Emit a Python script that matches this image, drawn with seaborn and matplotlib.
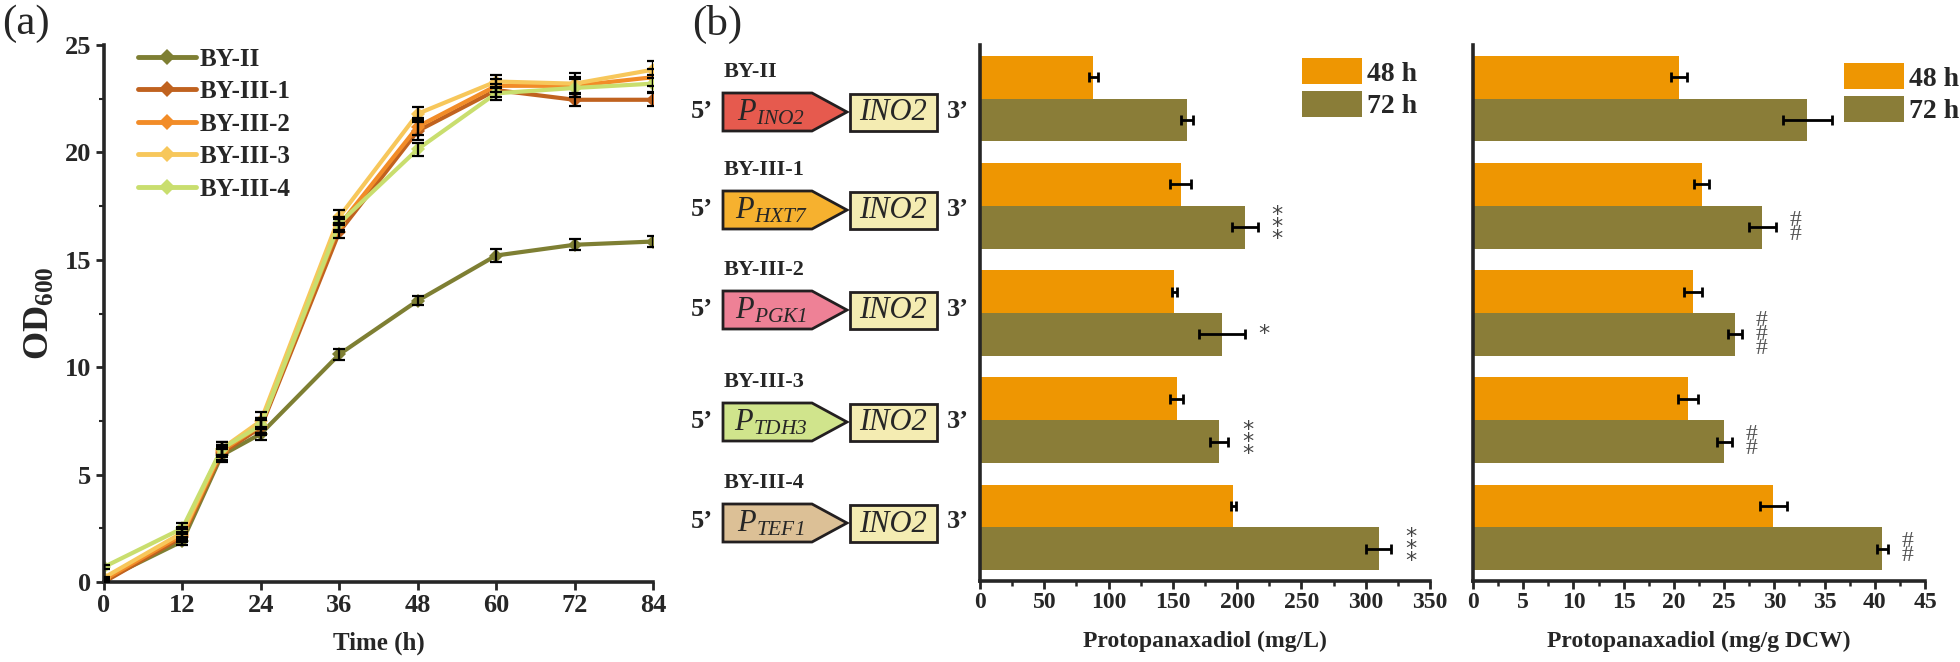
import numpy as np
import pandas as pd
import matplotlib
matplotlib.use("Agg")
import matplotlib.pyplot as plt
import seaborn as sns
from matplotlib.patches import Polygon, Rectangle
from matplotlib.lines import Line2D
from matplotlib.ticker import MultipleLocator

sns.set_theme(style="ticks")
plt.rcParams["font.family"] = ["Liberation Serif", "DejaVu Serif"]
plt.rcParams["font.weight"] = "bold"
plt.rcParams["axes.labelweight"] = "bold"
plt.rcParams["mathtext.fontset"] = "custom"
plt.rcParams["mathtext.rm"] = "Liberation Serif:weight=bold"
plt.rcParams["mathtext.bf"] = "Liberation Serif:weight=bold"
plt.rcParams["mathtext.it"] = "Liberation Serif:style=italic:weight=normal"
plt.rcParams["mathtext.default"] = "regular"

# ---------------- data ----------------
time_h = [0, 12, 18, 24, 36, 48, 60, 72, 84]
strains = ["BY-II", "BY-III-1", "BY-III-2", "BY-III-3", "BY-III-4"]

od_by2 = [0.1, 1.9, 5.9, 6.9, 10.6, 13.1, 15.2, 15.7, 15.85]
od_by3_1 = [0.0, 2.1, 6.0, 7.2, 16.3, 21.0, 22.9, 22.45, 22.45]
od_by3_2 = [0.1, 2.2, 6.1, 7.3, 16.6, 21.2, 23.1, 23.1, 23.5]
od_by3_3 = [0.2, 2.3, 6.2, 7.5, 17.0, 21.8, 23.3, 23.2, 23.85]
od_by3_4 = [0.7, 2.5, 6.2, 7.3, 16.7, 20.15, 22.75, 23.0, 23.2]

sd_by2 = [0.05, 0.2, 0.3, 0.3, 0.25, 0.2, 0.3, 0.25, 0.25]
sd_by3_1 = [0.05, 0.25, 0.3, 0.35, 0.3, 0.4, 0.3, 0.3, 0.3]
sd_by3_2 = [0.05, 0.25, 0.3, 0.35, 0.3, 0.4, 0.3, 0.4, 0.4]
sd_by3_3 = [0.05, 0.25, 0.3, 0.4, 0.3, 0.3, 0.3, 0.5, 0.4]
sd_by3_4 = [0.1, 0.25, 0.3, 0.35, 0.3, 0.3, 0.3, 0.4, 0.4]

titer_48 = [88, 156, 151, 153, 197]
titer_48_sd = [3.5, 8, 2, 5, 2]
titer_72 = [161, 206, 188, 186, 310]
titer_72_sd = [4.5, 10, 18, 7, 10]
titer_marks = ["", "***", "*", "***", "***"]

yield_48 = [20.5, 22.75, 21.9, 21.45, 29.9]
yield_48_sd = [0.8, 0.7, 0.85, 1.0, 1.35]
yield_72 = [33.3, 28.8, 26.05, 25.0, 40.75]
yield_72_sd = [2.45, 1.35, 0.7, 0.75, 0.55]
yield_marks = ["", "##", "###", "##", "##"]

promoters = ["INO2", "HXT7", "PGK1", "TDH3", "TEF1"]
time_levels = ["48 h", "72 h"]

# ---------------- styles ----------------
line_colors = ["#7E7F33", "#C0621F", "#F28C28", "#F7C75B", "#C9DE6E"]
bar_colors = ["#EE9602", "#8A7D38"]
prom_colors = ["#E65A4E", "#F6B12F", "#EE8196", "#D0E48C", "#DCC096"]
gene_color = "#F4ECB2"
edge_dark = "#231F20"

W, H = 1960, 662
fig = plt.figure(figsize=(W / 100, H / 100), dpi=100)

def fx(px):
    return px / W

def fy(py):
    return 1 - py / H

# ---------------- panel (a) ----------------
ax_a = fig.add_axes([fx(104), fy(582), fx(653) - fx(104), fy(45) - fy(582)])
od_all = [od_by2, od_by3_1, od_by3_2, od_by3_3, od_by3_4]
sd_all = [sd_by2, sd_by3_1, sd_by3_2, sd_by3_3, sd_by3_4]
rows = []
for s, vals in zip(strains, od_all):
    for t, v in zip(time_h, vals):
        rows.append({"Strain": s, "Time": t, "OD": v})
df_a = pd.DataFrame(rows)
sns.lineplot(data=df_a, x="Time", y="OD", hue="Strain", hue_order=strains,
             palette=line_colors, marker="D", markersize=7, markeredgewidth=0,
             linewidth=3, errorbar=None, legend=False, ax=ax_a)
for vals, sds in zip(od_all, sd_all):
    ax_a.errorbar(time_h, vals, yerr=sds, fmt="none", ecolor="black",
                  elinewidth=1.6, capsize=4.5, capthick=1.6, zorder=5)
ax_a.set_xlim(0, 84)
ax_a.set_ylim(0, 25)
ax_a.set_xticks([0, 12, 24, 36, 48, 60, 72, 84])
ax_a.set_yticks([0, 5, 10, 15, 20, 25])
ax_a.yaxis.set_minor_locator(MultipleLocator(2.5))
ax_a.tick_params(axis="both", which="major", labelsize=19, width=2, length=6,
                 direction="out", pad=3)
ax_a.tick_params(axis="y", which="minor", width=1.5, length=3.5)
ax_a.set_xlabel("Time (h)", fontsize=18, labelpad=10)
ax_a.set_ylabel("OD$_{600}$", fontsize=26, labelpad=6)
sns.despine(ax=ax_a)
for sp in ["left", "bottom"]:
    ax_a.spines[sp].set_linewidth(2.6)
handles = [Line2D([0], [0], color=c, lw=3.5, marker="D", markersize=8,
                  markeredgewidth=0) for c in line_colors]
ax_a.legend(handles, strains, loc="upper left", bbox_to_anchor=(0.062, 0.995),
            frameon=False, fontsize=18, handlelength=2.3, handletextpad=0.15,
            labelspacing=0.38, borderpad=0, borderaxespad=0)

# ---------------- panel (b) bars ----------------
df_b = pd.DataFrame({
    "Strain": strains * 2,
    "Time": [time_levels[0]] * 5 + [time_levels[1]] * 5,
    "Titer": titer_48 + titer_72,
    "Yield": yield_48 + yield_72,
})

def bar_panel(ax, col, sds, marks, xmax, major, minor, xlabel, leg_anchor, mark_font):
    sns.barplot(data=df_b, y="Strain", x=col, hue="Time", order=strains,
                hue_order=time_levels, orient="h", palette=bar_colors,
                saturation=1, width=0.8, errorbar=None, linewidth=0, ax=ax)
    for cont, sd in zip(ax.containers, sds):
        ys = [p.get_y() + p.get_height() / 2 for p in cont]
        xs = [p.get_width() for p in cont]
        ax.errorbar(xs, ys, xerr=sd, fmt="none", ecolor="black",
                    elinewidth=2.0, capsize=3.5, capthick=2.0, zorder=5)
    cont72 = ax.containers[1]
    for p, sd, m in zip(cont72, sds[1], marks):
        if not m:
            continue
        y = p.get_y() + p.get_height() / 2
        ax.annotate("\n".join(m), xy=(p.get_width() + sd, y), xytext=(10, 0),
                    textcoords="offset points", ha="left", va="center",
                    **mark_font)
    ax.set_xlim(0, xmax)
    ax.set_ylim(4.5, -0.5)
    ax.xaxis.set_major_locator(MultipleLocator(major))
    ax.xaxis.set_minor_locator(MultipleLocator(minor))
    ax.set_yticks([])
    ax.set_ylabel("")
    ax.set_xlabel(xlabel, fontsize=17, labelpad=13)
    ax.tick_params(axis="x", which="major", labelsize=17, width=2, length=6, pad=2)
    ax.tick_params(axis="x", which="minor", width=1.8, length=3.5)
    sns.despine(ax=ax)
    for sp in ["left", "bottom"]:
        ax.spines[sp].set_linewidth(2.6)
    ax.legend(loc="upper left", bbox_to_anchor=leg_anchor, frameon=False,
              fontsize=20, handlelength=2.15, handleheight=1.05,
              handletextpad=0.2, labelspacing=0.15, borderpad=0,
              borderaxespad=0)

ax_b1 = fig.add_axes([fx(980), fy(581), fx(1430) - fx(980), fy(45) - fy(581)])
bar_panel(ax_b1, "Titer", [titer_48_sd, titer_72_sd], titer_marks, 350, 50, 25,
          "Protopanaxadiol (mg/L)", (0.716, 0.975),
          dict(fontsize=16, color="#444444", linespacing=0.5,
               family=["DejaVu Sans"], fontweight="normal"))

ax_b2 = fig.add_axes([fx(1473), fy(581), fx(1925) - fx(1473), fy(45) - fy(581)])
bar_panel(ax_b2, "Yield", [yield_48_sd, yield_72_sd], yield_marks, 45, 5, 2.5,
          "Protopanaxadiol (mg/g DCW)", (0.821, 0.966),
          dict(fontsize=17, color="#555555", linespacing=0.55,
               fontweight="normal"))

# ---------------- construct diagrams & panel letters ----------------
ax_c = fig.add_axes([0, 0, 1, 1], zorder=-1)
ax_c.set_xlim(0, W)
ax_c.set_ylim(H, 0)
ax_c.axis("off")
ax_c.patch.set_alpha(0)

ax_c.text(2, 24, "(a)", fontsize=31, fontweight="normal", ha="left", va="center")
ax_c.text(692, 24, "(b)", fontsize=31, fontweight="normal", ha="left", va="center")

construct_y = [112, 210, 310, 422, 523]
for s, pr, pc, cy in zip(strains, promoters, prom_colors, construct_y):
    ax_c.text(724, cy - 40, s, fontsize=16, ha="left", va="center")
    ax_c.text(702, cy - 1, "5\u2019", fontsize=19, ha="center", va="center")
    ax_c.text(958, cy - 1, "3\u2019", fontsize=19, ha="center", va="center")
    poly = Polygon([(723, cy - 19), (812, cy - 19), (847, cy), (812, cy + 19),
                    (723, cy + 19)], closed=True, facecolor=pc,
                   edgecolor=edge_dark, lw=2, joinstyle="miter")
    ax_c.add_patch(poly)
    ax_c.text(771, cy + 1, r"$P_{%s}$" % pr, fontsize=22, fontstyle="italic",
              fontweight="normal", ha="center", va="center")
    rect = Rectangle((850, cy - 18), 87, 37, facecolor=gene_color,
                     edgecolor=edge_dark, lw=2)
    ax_c.add_patch(rect)
    ax_c.text(893, cy + 1, "INO2", fontsize=22, fontstyle="italic",
              fontweight="normal", ha="center", va="center")

fig.savefig("out.png", dpi=100)
